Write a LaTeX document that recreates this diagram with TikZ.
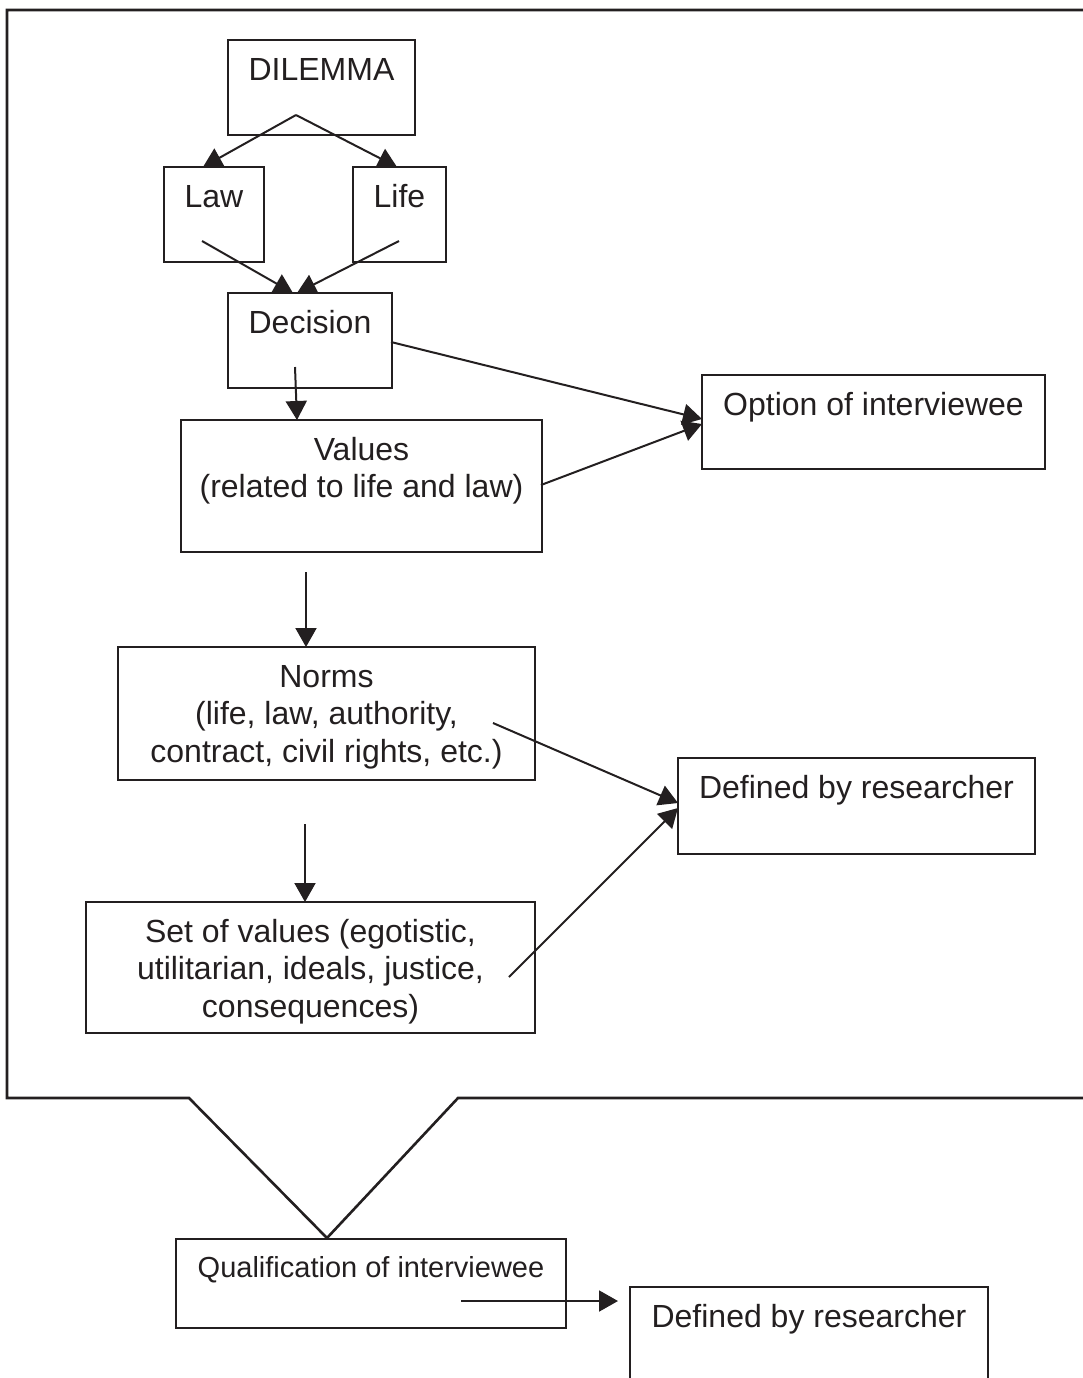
\documentclass[tikz,border=0pt]{standalone}
\usepackage{fontspec}
\setmainfont{Liberation Sans}
\usetikzlibrary{arrows.meta,calc,fit}
\definecolor{ink}{RGB}{35,31,32}
\begin{document}
\begin{tikzpicture}[x=0.5pt,y=-0.5pt,
  box/.style={draw=ink, line width=1.25pt, inner sep=0pt, outer sep=0pt, rectangle},
  txt/.style={anchor=north, inner sep=0pt, align=center, text=ink,
              font=\fontsize{16}{18.75}\selectfont},
  smalltxt/.style={anchor=north, inner sep=0pt, align=center, text=ink,
              font=\fontsize{14.5}{17}\selectfont},
  arr/.style={draw=ink, line width=1pt, -{Triangle[length=9.5pt,width=10.5pt]}},
  frame/.style={draw=ink, line width=1.3pt}]
\useasboundingbox (0,0) rectangle (1083,1378);
\clip (0,0) rectangle (1083,1378);

% outer frame
\draw[frame] (1120,10) -- (7,10) -- (7,1098) -- (189,1098) -- (327,1238) -- (458,1098) -- (1120,1098);

% boxes
\node[box, fit={(228,40) (415,135)}] (dil) {};
\node[box, fit={(164,167) (264,262)}] (law) {};
\node[box, fit={(353,167) (446,262)}] (life) {};
\node[box, fit={(228,293) (392,388)}] (dec) {};
\node[box, fit={(181,420) (542,552)}] (val) {};
\node[box, fit={(702,375) (1045,469)}] (opt) {};
\node[box, fit={(118,647) (535,780)}] (norms) {};
\node[box, fit={(678,758) (1035,854)}] (def1) {};
\node[box, fit={(86,902) (535,1033)}] (set) {};
\node[box, fit={(176,1239) (566,1328)}] (qual) {};
\node[box, fit={(630,1287) (988,1384)}] (def2) {};

% texts
\node[txt] (dilT) at ([yshift=-6.875pt]dil.north) {\strut DILEMMA};
\node[txt] (lawT) at ([yshift=-6.875pt]law.north) {\strut Law};
\node[txt] (lifeT) at ([yshift=-6.875pt]life.north) {\strut Life};
\node[txt] (decT) at ([yshift=-6.875pt]dec.north) {\strut Decision};
\node[txt] (valT) at ([yshift=-6.875pt]val.north) {\strut Values\\(related to life and law)};
\node[txt] (optT) at ([yshift=-6.875pt]opt.north) {\strut Option of interviewee};
\node[txt] (normsT) at ([yshift=-6.875pt]norms.north) {\strut Norms\\(life, law, authority,\\contract, civil rights, etc.)};
\node[txt] (def1T) at ([yshift=-6.875pt]def1.north) {\strut Defined by researcher};
\node[txt] (setT) at ([yshift=-6.875pt]set.north) {\strut Set of values (egotistic,\\utilitarian, ideals, justice,\\consequences)};
\node[smalltxt] (qualT) at ([yshift=-7.1pt]qual.north) {\strut Qualification of interviewee};
\node[txt] (def2T) at ([yshift=-6.875pt]def2.north) {\strut Defined by researcher};

% connector start points
\coordinate (dilOut) at (296,115);
\coordinate (lawOut) at (202,241);
\coordinate (lifeOut) at (399,241);
\coordinate (decOut) at (295,367);
\coordinate (decSide) at (391,342);
\coordinate (valSide) at (541,485);
\coordinate (valOut) at (306,572);
\coordinate (normsOut) at (493,723);
\coordinate (normsDown) at (305,824);
\coordinate (setOut) at (509,977);
\coordinate (qualOut) at (461,1301);

% connectors
\draw[arr] (dilOut) -- ($(law.north)+(-11,0)$);
\draw[arr] (dilOut) -- ($(life.north)+(-2.5,0)$);
\draw[arr] (lawOut) -- ($(dec.north)+(-17,0)$);
\draw[arr] (lifeOut) -- ($(dec.north)+(-13,0)$);
\draw[arr] (decOut) -- ($(val.north)+(-64.5,0)$);
\draw[arr] (decSide) -- ($(opt.west)+(0,-3)$);
\draw[arr] (valSide) -- ($(opt.west)+(0,2)$);
\draw[arr] (valOut) -- ($(norms.north)+(-20.5,0)$);
\draw[arr] (normsOut) -- ($(def1.west)+(0,-3)$);
\draw[arr] (normsDown) -- ($(set.north)+(-5.5,0)$);
\draw[arr] (setOut) -- ($(def1.west)+(0,2)$);
\draw[arr] (qualOut) -- ($(def2.north west)+(-12,14)$);
\end{tikzpicture}
\end{document}
